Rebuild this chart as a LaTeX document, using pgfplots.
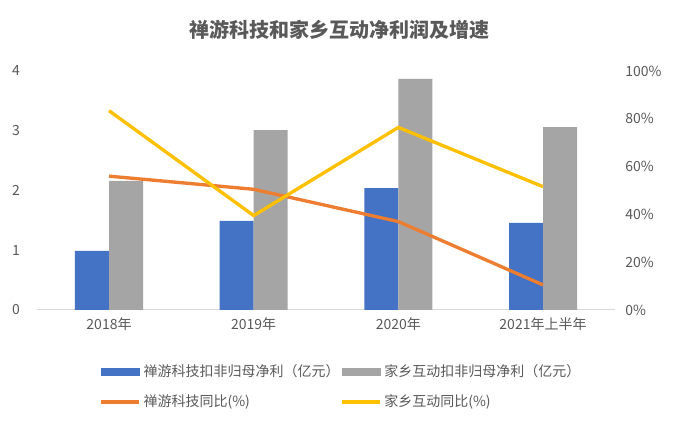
\documentclass[border=0pt]{standalone}
\usepackage{fontspec}
\setmainfont{Noto Sans CJK SC}
\usepackage{pgfplots}
\pgfplotsset{compat=1.18}
\definecolor{cblue}{HTML}{4472C4}
\definecolor{cgray}{HTML}{A5A5A5}
\definecolor{corange}{HTML}{ED7D31}
\definecolor{cyellow}{HTML}{FFC000}
\definecolor{ctext}{HTML}{595959}
\definecolor{caxis}{HTML}{D9D9D9}
\begin{document}
\begin{tikzpicture}[x=0.75pt,y=0.75pt]
\useasboundingbox (0,0) rectangle (678,423);
\fill[white] (0,0) rectangle (678,423);
\node[font=\fontsize{15}{17}\selectfont\bfseries, text=ctext] at (339,393) {禅游科技和家乡互动净利润及增速};
\pgfplotsset{
  base/.style={
    at={(27.5pt,84.75pt)}, anchor=south west,
    scale only axis, width=434pt, height=179.25pt,
    xmin=-0.5, xmax=3.5,
    xtick={0,1,2,3},
    tick style={draw=none},
    /pgf/number format/assume math mode=true,
    ticklabel style={font=\fontsize{10.5}{12}\selectfont, text=ctext},
  }
}
\begin{axis}[base,
  ymin=0, ymax=4, ytick={0,1,2,3,4},
  axis y line*=left, axis x line*=bottom,
  y axis line style={draw=none},
  x axis line style={draw=caxis, line width=0.75pt},
  xticklabels={2018年,2019年,2020年,2021年上半年},
  xticklabel style={yshift=-2pt},
  yticklabel style={xshift=-9pt},
  bar width=25.5pt,
]
\addplot[ybar, fill=cblue, draw=none, bar shift=-12.75pt] coordinates {(0,0.99) (1,1.49) (2,2.04) (3,1.46)};
\addplot[ybar, fill=cgray, draw=none, bar shift=12.75pt] coordinates {(0,2.16) (1,3.01) (2,3.87) (3,3.06)};
\end{axis}
\begin{axis}[base,
  ymin=0, ymax=100, ytick={0,20,40,60,80,100},
  yticklabel={\pgfmathprintnumber{\tick}\%},
  axis y line*=right, axis x line=none,
  y axis line style={draw=none},
  yticklabel style={xshift=4pt},
  legend columns=2,
  legend style={at={(44pt,-37pt)}, anchor=north west, draw=none, fill=none,
    font=\fontsize{10.5}{12}\selectfont, text=ctext, row sep=8pt,
    /tikz/every even column/.append style={column sep=-1.5pt}},
  legend cell align=left,
]
\addlegendimage{legend image code/.code={\fill[cblue] (0pt,-2.6pt) rectangle (28.5pt,2.6pt);}}
\addlegendentry{禅游科技扣非归母净利（亿元）}
\addlegendimage{legend image code/.code={\fill[cgray] (0pt,-2.6pt) rectangle (28.5pt,2.6pt);}}
\addlegendentry{家乡互动扣非归母净利（亿元）}
\addplot[corange, line width=2.5pt, legend image code/.code={\draw[corange, line width=2.5pt] (0pt,0pt) -- (28.5pt,0pt);}] coordinates {(0,56) (1,50.5) (2,37) (3,10.5)};
\addlegendentry{禅游科技同比(\%)}
\addplot[cyellow, line width=2.5pt, legend image code/.code={\draw[cyellow, line width=2.5pt] (0pt,0pt) -- (28.5pt,0pt);}] coordinates {(0,83.4) (1,39.5) (2,76.4) (3,51.6)};
\addlegendentry{家乡互动同比(\%)}
\end{axis}
\end{tikzpicture}
\end{document}
